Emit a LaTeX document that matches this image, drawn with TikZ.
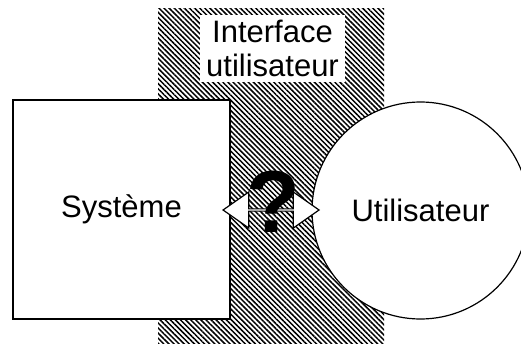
\documentclass[tikz,border=0pt]{standalone}
\usepackage{fontspec}
\setmainfont{Liberation Sans}
\usetikzlibrary{shapes.arrows,patterns.meta,calc}

\begin{document}
\begin{tikzpicture}[x=1pt,y=1pt,
    hatch/.style={pattern={Lines[angle=-45,distance=3.6pt,line width=1.5pt]}},
    bigtext/.style={font=\fontsize{31}{34}\selectfont}]
\useasboundingbox (0,0) rectangle (521,343);
\clip (0,0) rectangle (521,343);
% band of the interface
\fill[hatch] (158,0) rectangle (384,334);
\node[fill=white, inner sep=0pt, minimum width=145pt, minimum height=67pt,
      align=center, bigtext] (interface) at (272.5,294.5) {Interface\\utilisateur};
\node[draw, line width=1.4pt, fill=white, minimum width=217pt, minimum height=219pt,
      bigtext] (systeme) at (121.5,133.5) {Système};
\node[circle, draw, line width=1.2pt, fill=white, minimum size=217pt,
      bigtext] (utilisateur) at (420.5,132.5) {Utilisateur};
\node[double arrow, draw, line width=1.2pt, fill=white, inner sep=0pt,
      minimum height=96pt, minimum width=36pt, double arrow head extend=9pt,
      double arrow tip angle=70] (lien) at ($(systeme.east)!0.5!(utilisateur.west)$) {};
\node[inner sep=0pt, font=\fontsize{88}{88}\selectfont\bfseries] (question)
      at ($(lien)+(2,8)$) {?};
\end{tikzpicture}
\end{document}
